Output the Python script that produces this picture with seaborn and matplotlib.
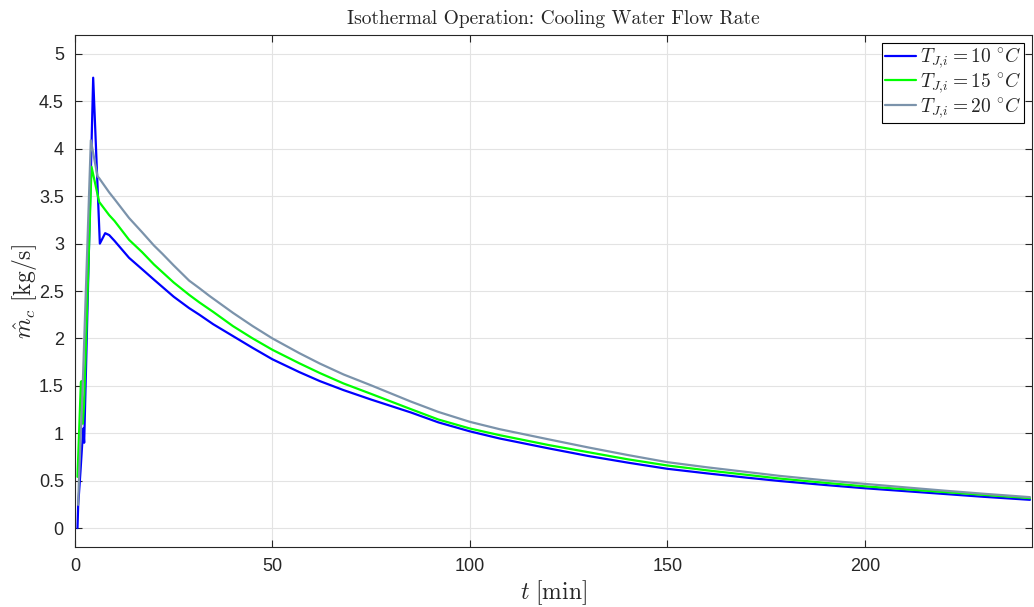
import matplotlib
matplotlib.use("Agg")
import matplotlib.pyplot as plt
import seaborn as sns
import pandas as pd
from matplotlib.ticker import FuncFormatter, MultipleLocator

# ---- data ----
t_10 = [0.64, 0.64, 0.82, 1.4, 2.08, 2.33, 2.75, 4.61, 6.3, 7.65, 8.67, 10.0, 13.7, 17.0, 20.0,
        25.0, 28.9, 31.5, 35.0, 40.0, 45.0, 50.0, 56.8, 62.0, 68.0, 75.0, 85.0, 92.0, 100.0,
        107.5, 120.0, 130.0, 140.0, 150.0, 160.0, 170.0, 178.5, 190.0, 200.0, 210.0, 220.0,
        230.0, 241.8]
m_10 = [0.0, 0.0, 0.245, 0.6, 1.05, 0.90, 1.6, 4.75, 3.0, 3.11, 3.09, 3.03, 2.85, 2.73, 2.62,
        2.44, 2.32, 2.25, 2.15, 2.025, 1.90, 1.78, 1.645, 1.55, 1.455, 1.355, 1.22, 1.115, 1.02,
        0.945, 0.84, 0.76, 0.69, 0.625, 0.577, 0.532, 0.496, 0.454, 0.42, 0.39, 0.36,
        0.33, 0.298]

t_15 = [0.64, 1.5, 1.65, 2.0, 2.3, 4.19, 6.13, 8.67, 10.0, 13.7, 17.0, 20.0,
        25.0, 28.9, 31.5, 35.0, 40.0, 45.0, 50.0, 56.8, 62.0, 68.0, 75.0, 85.0, 92.0, 100.0,
        107.5, 120.0, 130.0, 140.0, 150.0, 160.0, 170.0, 178.5, 190.0, 200.0, 210.0, 220.0,
        230.0, 241.8]
m_15 = [0.54, 1.54, 1.55, 1.1, 1.3, 3.81, 3.44, 3.30, 3.24, 3.04, 2.91, 2.78,
        2.59, 2.46, 2.38, 2.28, 2.13, 2.00, 1.88, 1.738, 1.635, 1.525, 1.415, 1.255, 1.145, 1.05,
        0.98, 0.875, 0.80, 0.725, 0.66, 0.609, 0.562, 0.522, 0.477, 0.44, 0.41, 0.38,
        0.35, 0.316]

t_20 = [0.82, 1.0, 1.9, 4.02, 5.7, 6.13, 8.67, 10.0, 13.7, 17.0, 20.0, 22.2,
        25.0, 28.9, 31.5, 34.0, 40.0, 45.0, 50.0, 56.8, 62.0, 68.0, 75.0, 85.0, 92.0, 100.0,
        107.5, 120.0, 130.0, 140.0, 150.0, 160.0, 170.0, 178.5, 190.0, 200.0, 210.0, 220.0,
        230.0, 241.8]
m_20 = [0.245, 0.5, 1.42, 4.09, 3.71, 3.69, 3.54, 3.47, 3.27, 3.12, 2.98, 2.89,
        2.77, 2.61, 2.53, 2.45, 2.27, 2.13, 2.0, 1.845, 1.735, 1.62, 1.505, 1.335, 1.225, 1.12,
        1.043, 0.935, 0.85, 0.77, 0.695, 0.641, 0.592, 0.55, 0.503, 0.466, 0.43, 0.395,
        0.362, 0.326]

series_labels = [r"$T_{J{,}i} = 10\ ^{\circ}C$", r"$T_{J{,}i} = 15\ ^{\circ}C$",
                 r"$T_{J{,}i} = 20\ ^{\circ}C$"]
series_colors = ["#0000ff", "#00ff00", "#7b93ab"]

x_ticks = [0, 50, 100, 150, 200]
title_text = "Isothermal Operation: Cooling Water Flow Rate"
x_label = r"$t\ [\mathrm{min}]$"
y_label = r"$\hat{m}_c\ [\mathrm{kg/s}]$"

frames = []
for tt, mm, lab in zip([t_10, t_15, t_20], [m_10, m_15, m_20], series_labels):
    frames.append(pd.DataFrame({"t": tt, "m": mm, "series": lab}))
df = pd.concat(frames, ignore_index=True)

sns.set_theme(style="ticks")
plt.rcParams["font.family"] = ["Liberation Sans", "DejaVu Sans"]
plt.rcParams["mathtext.fontset"] = "cm"

fig = plt.figure(figsize=(10.34, 6.07), dpi=100)
ax = fig.add_axes([0.0725, 0.0988, 0.9255, 0.8435])

sns.lineplot(data=df, x="t", y="m", hue="series", hue_order=series_labels,
             palette=dict(zip(series_labels, series_colors)), sort=False,
             estimator=None, units="series", linewidth=1.6, ax=ax, legend=True)

ax.set_xlim(0, 242.3)
ax.set_ylim(-0.2, 5.2)
ax.set_xticks(x_ticks)
ax.yaxis.set_major_locator(MultipleLocator(0.5))
ax.yaxis.set_major_formatter(FuncFormatter(lambda v, p: f"{v:g}"))
ax.grid(True, color="#e3e3e3", linewidth=0.8)
ax.set_axisbelow(True)
for s in ax.spines.values():
    s.set_color("#262626")
    s.set_linewidth(0.8)
ax.tick_params(direction="in", top=True, right=True, length=5, width=0.8,
               labelsize=13, colors="#262626", pad=8)

ax.set_title(title_text, fontsize=14, pad=8, fontfamily="cmr10")
ax.set_xlabel(x_label, fontsize=17, labelpad=2)
ax.set_ylabel(y_label, fontsize=17, labelpad=0)

leg = ax.legend(loc="upper right", fontsize=14, frameon=True, fancybox=False,
                edgecolor="black", framealpha=1, handlelength=1.6, handletextpad=0.2,
                borderpad=0.15, labelspacing=0.0, borderaxespad=0.4)
leg.get_frame().set_linewidth(0.8)

fig.savefig("out.png", dpi=100)
